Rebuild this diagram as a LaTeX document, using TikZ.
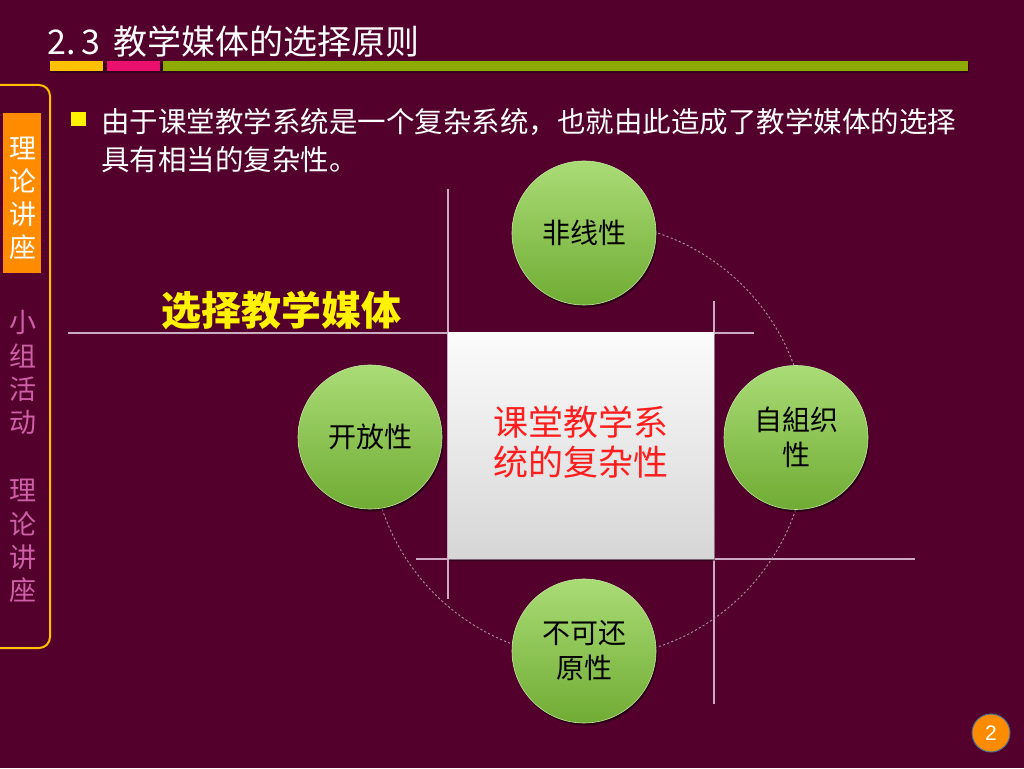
\documentclass[tikz,border=0pt]{standalone}
\usepackage{fontspec}
\setmainfont{Noto Sans CJK SC}
\newfontfamily\numfont{Liberation Sans}
\usetikzlibrary{shadows}
\definecolor{bgc}{RGB}{84,0,44}
\definecolor{barorange}{RGB}{255,192,0}
\definecolor{barpink}{RGB}{236,16,110}
\definecolor{bargreen}{RGB}{140,170,0}
\definecolor{boxorange}{RGB}{255,140,0}
\definecolor{sidepink}{RGB}{206,96,168}
\definecolor{linec}{RGB}{205,170,195}
\definecolor{dashc}{RGB}{175,140,165}
\definecolor{gtop}{RGB}{170,220,118}
\definecolor{gbot}{RGB}{112,172,52}
\definecolor{ctxt}{RGB}{255,30,30}
\tikzset{
  sidechar/.style={font=\fontsize{27}{27}\selectfont, inner sep=0pt},
  ball/.style={circle, minimum size=144pt, inner sep=0pt, top color=gtop, bottom color=gbot,
     draw={rgb,255:red,190;green,230;blue,160}, line width=0.6pt, align=center,
     font=\fontsize{28}{35}\selectfont, text=black,
     drop shadow={shadow xshift=1.5pt, shadow yshift=-2.5pt, opacity=0.45, fill=black}},
  guide/.style={draw=linec, line width=1.1pt},
  barstyle/.style={draw=none}
}
\begin{document}
\begin{tikzpicture}[x=1pt,y=1pt]
\fill[bgc] (0,0) rectangle (1024,768);
\useasboundingbox (0,0) rectangle (1024,768);
% title
\node[anchor=west, text=white, inner sep=0pt, font=\fontsize{34}{34}\selectfont] (title) at (47,727) {2.\,3\hspace{13pt}教学媒体的选择原则};
% bars
\fill[black, opacity=0.35] (51,695) rectangle (969,705);
\fill[barorange] (50,697) rectangle (103,707);
\fill[barpink] (107,697) rectangle (160,707);
\fill[bargreen] (163,697) rectangle (968,707);
% side panel
\draw[barorange, line width=2pt, rounded corners=11pt] (-5,683) -- (50,683) -- (50,120) -- (-5,120);
\fill[boxorange] (3,495) rectangle (41,655);
\foreach \c/\yy [count=\i] in {理/620,论/587,讲/554,座/521}
  \node[sidechar, text=white] (sa\i) at (23,\yy) {\c};
\foreach \c/\yy [count=\i] in {小/446,组/412.5,活/379,动/345.5,理/278,论/244.5,讲/211,座/177.5}
  \node[sidechar, text=sidepink] (sb\i) at (23,\yy) {\c};
% bullet
\fill[yellow] (71,642) rectangle (86,655.5);
\node[anchor=west, text=white, inner sep=0pt, font=\fontsize{28.5}{28.5}\selectfont] (l1) at (101,646) {由于课堂教学系统是一个复杂系统，也就由此造成了教学媒体的选择};
\node[anchor=west, text=white, inner sep=0pt, font=\fontsize{28.5}{28.5}\selectfont] (l2) at (101,608) {具有相当的复杂性。};
% guide lines
\coordinate (v1a) at (448,579); \coordinate (v1b) at (448,169);
\coordinate (h1a) at (68,435); \coordinate (h1b) at (754,435);
\coordinate (v2a) at (714,467); \coordinate (v2b) at (714,64);
\coordinate (h2a) at (416,209); \coordinate (h2b) at (915,209);
\draw[guide] (v1a) -- (v1b);
\draw[guide] (h1a) -- (h1b);
\draw[guide] (v2a) -- (v2b);
\draw[guide] (h2a) -- (h2b);
% yellow heading
\node[anchor=west, text=yellow, inner sep=0pt, font=\fontsize{40}{40}\selectfont\bfseries] (sel) at (161,458) {选择教学媒体};
% dashed arc
\draw[dashc, line width=0.9pt, dash pattern=on 2.2pt off 2.2pt] (589,328) ++(180:218) arc[start angle=180, end angle=450, radius=218];
% centre box
\node[rectangle, minimum width=266pt, minimum height=226pt, inner sep=0pt, top color={rgb,255:red,251;green,251;blue,251}, bottom color={rgb,255:red,214;green,214;blue,214},
  drop shadow={shadow xshift=1pt, shadow yshift=-2pt, opacity=0.4, fill=black}] (core) at (581,322) {};
\node[text=ctxt, align=center, font=\fontsize{35}{40}\selectfont] (coretxt) at (581,326) {课堂教学系\\统的复杂性};
% balls
\node[ball] (top) at (584,535) {非线性};
\node[ball] (left) at (370,331) {开放性};
\node[ball] (right) at (796,330.5) {自組织\\性};
\node[ball] (bottom) at (584,117) {不可还\\原性};
% page number
\node[circle, minimum size=38pt, inner sep=0pt, fill=boxorange, draw={rgb,255:red,70;green,110;blue,150}, line width=1pt, text=white, font=\numfont\fontsize{21}{21}\selectfont] (pg) at (991,35) {2};
\end{tikzpicture}
\end{document}
